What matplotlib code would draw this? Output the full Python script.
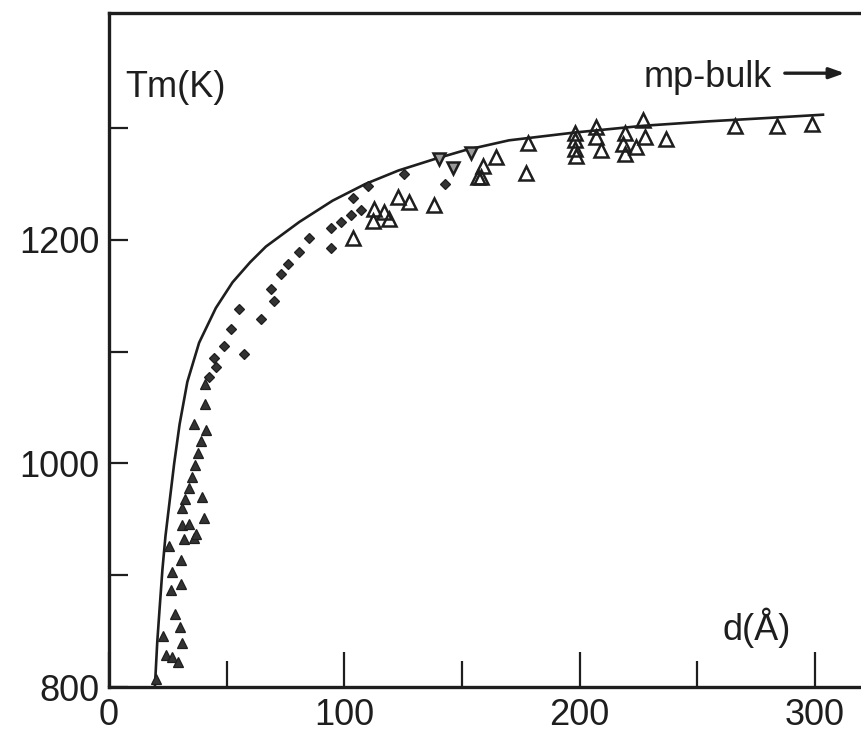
import matplotlib
matplotlib.use("Agg")
import matplotlib.pyplot as plt

plt.rcParams['font.family'] = ['Liberation Sans', 'DejaVu Sans']

# theory curve
curve_d = [19.5, 20.5, 21.5, 22.7, 24.0, 25.7, 27.7, 30.0, 33.3, 38.3, 45.4, 52.5,
           60.0, 66.7, 80.9, 95.0, 109.0, 123.0, 138.0, 151.0, 170.0, 198.0, 227.0,
           255.0, 280.0, 304.0]
curve_T = [800, 840, 870, 905, 935, 965, 1000, 1035, 1073, 1108, 1139, 1162,
           1180, 1194, 1216, 1235, 1250, 1262, 1272, 1280, 1289, 1296, 1302,
           1306, 1309, 1312]

# small filled triangles (low d)
tri_d = [19.9, 25.5, 30.5, 26.8, 26.3, 30.5, 28.1, 30.1, 23.0, 30.9, 24.1, 26.8, 29.4,
         31.9, 36.2, 36.9, 31.1, 34.0, 39.4, 40.9, 36.2, 41.1, 39.0, 37.9, 36.6,
         35.3, 34.0, 32.3, 31.1, 40.4, 40.9]
tri_T = [807, 926, 914, 903, 887, 892, 865, 854, 846, 839, 829, 827, 822,
         932, 933, 937, 945, 946, 970, 1053, 1035, 1030, 1020, 1009, 999,
         988, 978, 968, 960, 951, 1071]

# small filled squares (middle d)
sq_d = [42.6, 44.7, 45.4, 48.9, 51.8, 57.4, 55.3, 64.6, 70.2, 68.8, 73.1, 75.9, 80.9,
        85.1, 94.3, 94.3, 98.6, 102.8, 107.1, 103.5, 109.9, 125.5, 142.6]
sq_T = [1077, 1094, 1086, 1105, 1120, 1098, 1138, 1129, 1145, 1156, 1169, 1178, 1189,
        1202, 1211, 1193, 1216, 1222, 1227, 1237, 1248, 1259, 1250]

# open triangles
up_d = [103.5, 112.8, 112.0, 117.0, 119.1, 122.7, 127.7, 138.3, 156.7, 164.5, 158.9,
        158.2, 178.0, 177.3, 197.9, 197.9, 197.9, 198.6, 207.1, 207.1, 209.2, 219.1,
        218.4, 219.1, 224.1, 226.9, 227.7, 236.9, 265.9, 283.7, 298.6]
up_T = [1202, 1228, 1217, 1225, 1219, 1238, 1234, 1231, 1256, 1274, 1266,
        1256, 1287, 1260, 1296, 1289, 1281, 1275, 1301, 1292, 1280, 1296,
        1286, 1277, 1283, 1307, 1292, 1290, 1302, 1302, 1304]

# down triangles
down_d = [140.4, 146.1, 153.9]
down_T = [1272, 1264, 1278]

ink = '#1e1e1e'
fig = plt.figure(figsize=(8.61, 7.34), dpi=100)
ax = fig.add_axes([0.1266, 0.064, 0.8734, 0.918])

ax.plot(curve_d, curve_T, color=ink, lw=1.9, solid_capstyle='butt')
ax.plot(tri_d, tri_T, ls='none', marker='^', ms=7, color='#333333', mec=ink, mew=0.9)
ax.plot(sq_d, sq_T, ls='none', marker='D', ms=5.5, color='#333333', mec=ink, mew=0.9)
ax.plot(up_d, up_T, ls='none', marker='^', ms=10, mfc='none', mec=ink, mew=1.8)
ax.plot(down_d, down_T, ls='none', marker='v', ms=9, mfc='#9a9a9a', mec=ink, mew=1.8)

ax.set_xlim(0, 319.6)
ax.set_ylim(800, 1402.7)

ax.set_xticks([0, 100, 200, 300])
ax.set_xticks([50, 150, 250], minor=True)
ax.set_yticks([800, 1000, 1200])
ax.set_yticks([900, 1100, 1300], minor=True)

ax.tick_params(axis='both', which='both', direction='in', width=1.6, color=ink,
               labelsize=26, labelcolor=ink)
ax.tick_params(axis='x', which='major', length=25, pad=8)
ax.tick_params(axis='x', which='minor', length=19)
ax.tick_params(axis='y', which='both', length=14, pad=7)

for s in ['left', 'bottom', 'top']:
    ax.spines[s].set_linewidth(2.4)
    ax.spines[s].set_color(ink)
ax.spines['right'].set_visible(False)

ax.text(0.021, 0.89, 'Tm(K)', transform=ax.transAxes, fontsize=26,
        va='center', ha='left', color=ink)
ax.text(0.861, 0.088, 'd(Å)', transform=ax.transAxes, fontsize=26,
        va='center', ha='center', color=ink)
ax.text(0.711, 0.905, 'mp-bulk', transform=ax.transAxes, fontsize=26,
        va='center', ha='left', color=ink)
ax.annotate('', xy=(0.982, 0.911), xytext=(0.895, 0.911), xycoords='axes fraction',
            arrowprops=dict(arrowstyle='-|>,head_length=0.9,head_width=0.32',
                            color=ink, lw=2.4))

fig.savefig('out.png', dpi=100, facecolor='white')
